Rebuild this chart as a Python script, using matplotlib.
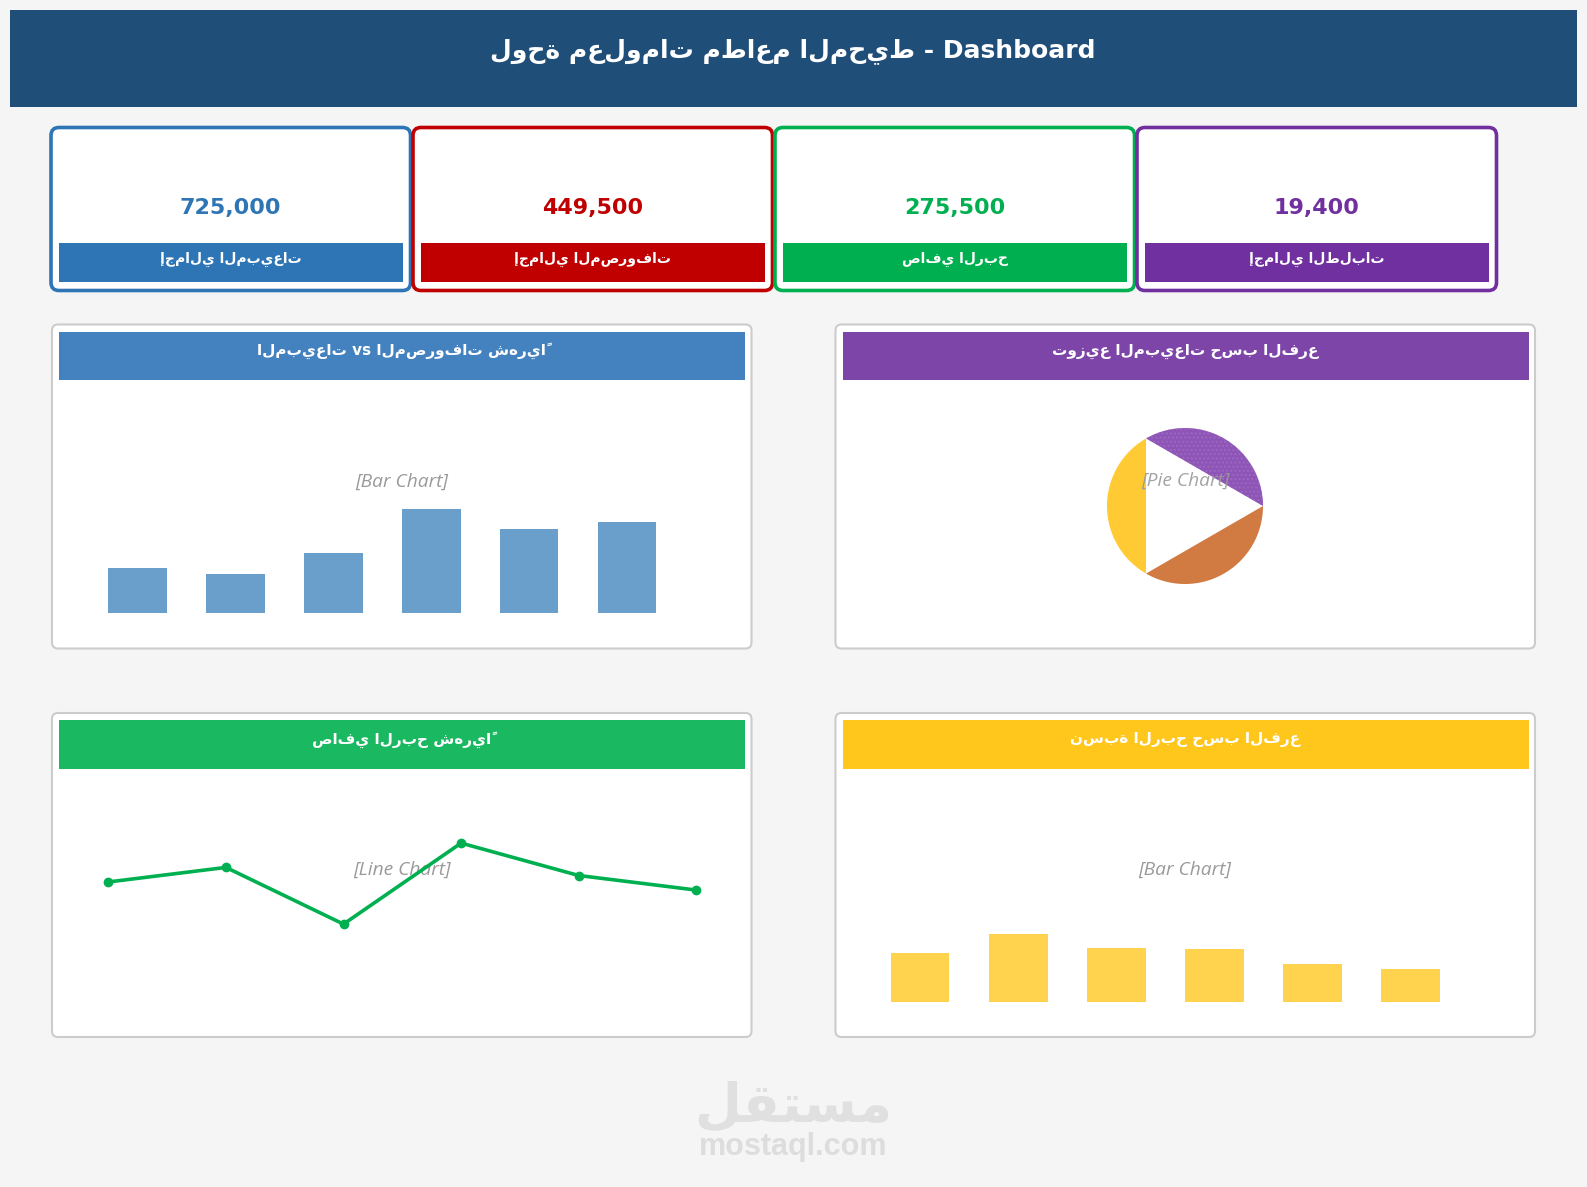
import numpy as np
import matplotlib
matplotlib.use("Agg")
import matplotlib.pyplot as plt
from matplotlib.patches import FancyBboxPatch, Rectangle

W, H, DPI = 1587, 1187, 100

# ---------------- data ----------------
title_text = "لوحة معلومات مطاعم المحيط - Dashboard"
kpi_labels = ["إجمالي المبيعات", "إجمالي المصروفات", "صافي الربح", "إجمالي الطلبات"]
kpi_values = [725000, 449500, 275500, 19400]
kpi_colors = ["#2E75B6", "#C00000", "#00B050", "#7030A0"]

panel_titles = ["المبيعات vs المصروفات شهرياً", "توزيع المبيعات حسب الفرع",
                "صافي الربح شهرياً", "نسبة الربح حسب الفرع"]
panel_colors = ["#4482BF", "#7E45A8", "#1BB862", "#FFC61C"]
placeholders = ["[Bar Chart]", "[Pie Chart]", "[Line Chart]", "[Bar Chart]"]

months = ["يناير", "فبراير", "مارس", "أبريل", "مايو", "يونيو"]
monthly_sales = [78000, 67000, 103000, 180000, 146000, 157000]
monthly_profit = [43000, 47500, 30000, 55000, 45000, 40500]
pie_branches = ["الفرع 1", "الفرع 2", "الفرع 3"]
pie_shares = [33.3, 33.3, 33.3]
pie_colors = ["#8E55B6", "#FFCA33", "#D17A42"]
profit_branches = ["ف1", "ف2", "ف3", "ف4", "ف5", "ف6"]
profit_pct = [36, 50, 40, 39, 28, 24]

# ---------------- figure ----------------
fig = plt.figure(figsize=(W / DPI, H / DPI), dpi=DPI, facecolor="#F5F5F5")
bg = fig.add_axes([0, 0, 1, 1])
bg.set_xlim(0, W)
bg.set_ylim(H, 0)
bg.axis("off")
bg.set_facecolor("#F5F5F5")

AR = ["DejaVu Sans"]
PH = ["Open Sans", "DejaVu Sans"]

# header
bg.add_patch(Rectangle((10, 10), 1567, 97, facecolor="#1F4E79", edgecolor="none"))
bg.text(793, 51, title_text, color="white", fontsize=18, fontweight="bold",
        ha="center", va="center", family=AR)

# KPI cards
for i, (lab, val, col) in enumerate(zip(kpi_labels, kpi_values, kpi_colors)):
    x0 = 51 + i * 362
    bg.add_patch(FancyBboxPatch((x0, 127.5), 359.5, 163,
                                boxstyle="round,pad=0,rounding_size=8",
                                facecolor="white", edgecolor=col, linewidth=2.6))
    bg.add_patch(Rectangle((x0 + 7.5, 243), 344, 38.5, facecolor=col, edgecolor="none"))
    bg.text(x0 + 179.5, 208, f"{val:,}", color=col, fontsize=16, fontweight="bold",
            ha="center", va="center", family=AR)
    bg.text(x0 + 179.5, 259, lab, color="white", fontsize=10, fontweight="bold",
            ha="center", va="center", family=AR)

# panels
panel_boxes = [(52, 324.5), (835.5, 324.5), (52, 713), (835.5, 713)]
for (px, py), t, c, ph in zip(panel_boxes, panel_titles, panel_colors, placeholders):
    bg.add_patch(FancyBboxPatch((px, py), 699.5, 324,
                                boxstyle="round,pad=0,rounding_size=6",
                                facecolor="white", edgecolor="#CCCCCC", linewidth=1.5))
    bg.add_patch(Rectangle((px + 7, py + 7), 686, 48.5, facecolor=c, edgecolor="none"))
    bg.text(px + 349.5, py + 26.5, t, color="white", fontsize=11, fontweight="bold",
            ha="center", va="center", family=AR)
    if ph != "[Pie Chart]":
        bg.text(px + 349.5, py + 157, ph, color="#9A9A9A", fontsize=13.8, style="italic",
                ha="center", va="center", family=PH)

# watermark
logo = "\uFEDE\uFED8\uFE98\uFEB4\uFEE3"
bg.text(793, 1106, logo, color="#E0E0E0", fontsize=39, fontweight="bold",
        ha="center", va="center", family=AR)
bg.text(793, 1147, "mostaql.com", color="#DDDDDD", fontsize=22, fontweight="bold",
        ha="center", va="center", family=["Liberation Sans", "DejaVu Sans"])


def pax(x0, x1, y_top, y_bot):
    a = fig.add_axes([x0 / W, 1 - y_bot / H, (x1 - x0) / W, (y_bot - y_top) / H])
    a.axis("off")
    a.patch.set_alpha(0)
    return a


# chart 1: monthly sales bars
a1 = pax(88.7, 675.9, 509, 613)
a1.bar(np.arange(len(months)), monthly_sales, width=0.6, color="#6A9ECB", clip_on=False)
a1.set_xlim(-0.5, 5.5)
a1.set_ylim(0, 180000)

# chart 2: pie as circular segments
a2 = pax(1107, 1263, 428, 584)
a2.set_xlim(-1, 1)
a2.set_ylim(-1, 1)
bounds = np.concatenate([[0], np.cumsum(pie_shares)]) / np.sum(pie_shares) * 2 * np.pi
for k, col in enumerate(pie_colors):
    th = np.linspace(bounds[k], bounds[k + 1], 100)
    hatch = "...." if k == 0 else None
    a2.fill(np.cos(th), np.sin(th), facecolor=col, edgecolor="#9A68C0" if k == 0 else col,
            linewidth=0, hatch=hatch, clip_on=False)
a2.text(0, 0.32, "[Pie Chart]", color="#999999", fontsize=13.8, style="italic",
        ha="center", va="center", family=PH, alpha=0.9)

# chart 3: monthly profit line
a3 = pax(108.3, 696.3, 826.9, 940.3)
a3.plot(np.arange(len(months)), monthly_profit, color="#00B050", linewidth=2.6,
        marker="o", markersize=6, clip_on=False)
a3.set_xlim(0, 5)
a3.set_ylim(25000, 60000)

# chart 4: profit ratio bars
a4 = pax(870.9, 1460, 934.2, 1002)
a4.bar(np.arange(len(profit_branches)), profit_pct, width=0.6, color="#FFD34D", clip_on=False)
a4.set_xlim(-0.5, 5.5)
a4.set_ylim(0, 50)

fig.savefig("out.png", dpi=DPI, facecolor=fig.get_facecolor())
